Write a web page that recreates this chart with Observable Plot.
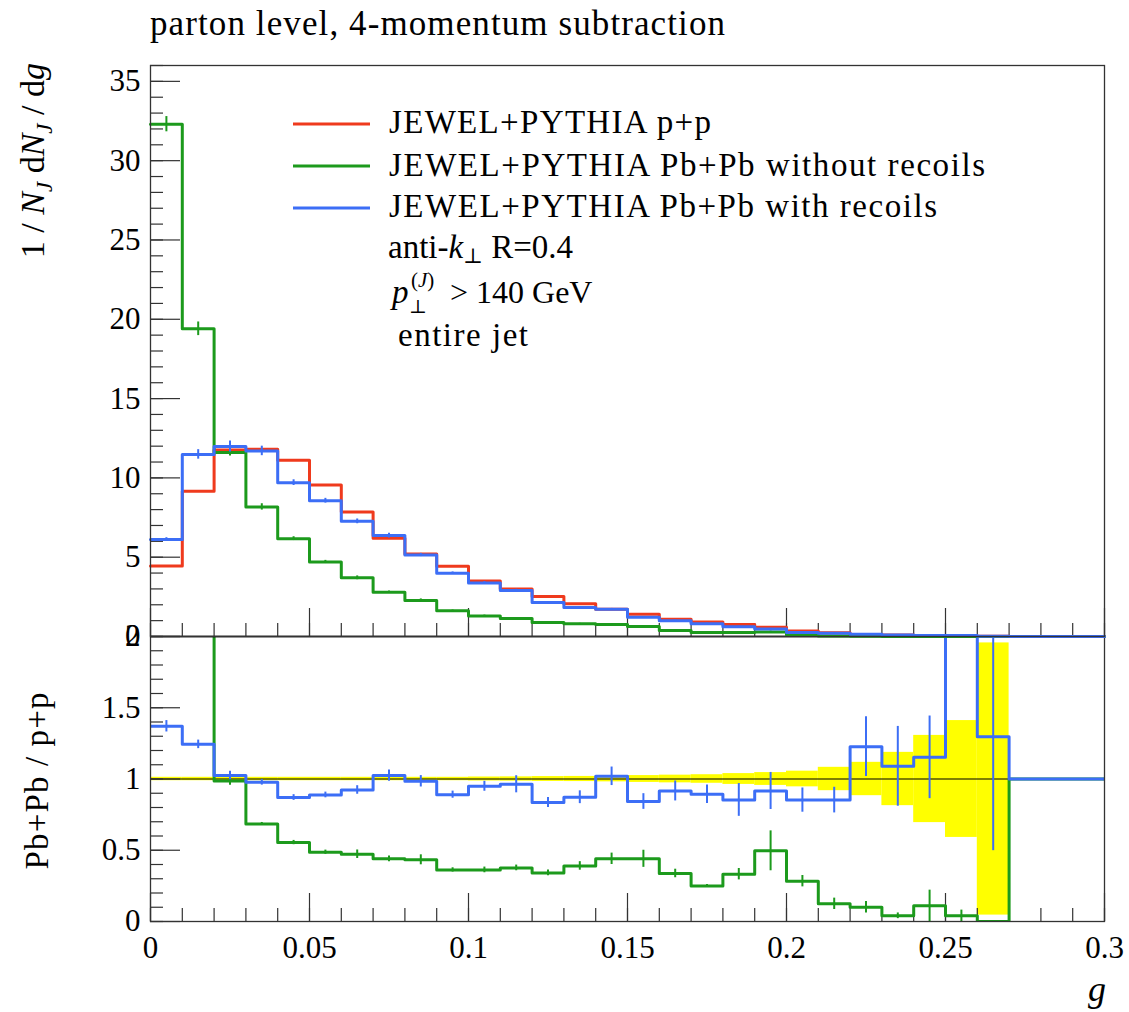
<!DOCTYPE html>
<html><head><meta charset="utf-8">
<script src="https://cdn.jsdelivr.net/npm/d3@7"></script>
<script src="https://cdn.jsdelivr.net/npm/@observablehq/plot@0.6"></script>
<style>
body{margin:0;background:#fff;}
#wrap{position:relative;width:1129px;height:1012px;font-family:"Liberation Serif","DejaVu Serif",serif;}
#wrap > svg{position:absolute;left:0;overflow:visible;}
</style></head><body><div id="wrap"></div>
<script>
// ---- data ----
const edges = [0,0.01,0.02,0.03,0.04,0.05,0.06,0.07,0.08,0.09,0.1,0.11,0.12,0.13,0.14,0.15,0.16,0.17,0.18,0.19,0.2,0.21,0.22,0.23,0.24,0.25,0.26,0.27,0.28,0.29,0.3];
const ppRed   = [4.44,9.16,11.76,11.8,11.11,9.55,7.85,6.2,5.2,4.43,3.5,3.0,2.52,2.06,1.72,1.41,1.09,0.92,0.75,0.59,0.34,0.23,0.12,0.09,0.06,0.03,0.015,0,0,0];
const pbNoRec = [32.3,19.4,11.6,8.17,6.17,4.7,3.7,2.79,2.27,1.62,1.3,1.13,0.88,0.8,0.75,0.63,0.38,0.25,0.25,0.29,0.1,0.03,0.01,0.005,0.007,0.001,0,0,0,0];
const pbRec   = [6.11,11.48,11.98,11.7,9.7,8.56,7.26,6.36,5.14,3.99,3.38,2.9,2.14,1.83,1.72,1.22,1.0,0.8,0.62,0.48,0.25,0.2,0.14,0.1,0.07,0.07,0.02,0,0,0];
const errNoRec = [0.48,0.43,0.22,0.2,0.12,0.1,0.12,0.08,0.1,0.05,0.05,0.05,0.03,0.03,0.04,0.04,0.02,0.01,0.02,0.05,0.02,0.01,0.01,0.01,0.01,0,0,0,0,0];
const errRec   = [0.12,0.3,0.35,0.3,0.18,0.15,0.15,0.15,0.1,0.08,0.08,0.08,0.05,0.05,0.05,0.04,0.04,0.03,0.03,0.03,0.02,0.02,0.02,0.02,0.01,0.01,0.01,0,0,0];
const ratioNoRec = [7.3,2.12,0.986,0.685,0.554,0.486,0.472,0.44,0.433,0.362,0.362,0.376,0.341,0.39,0.44,0.44,0.337,0.25,0.332,0.496,0.283,0.124,0.1,0.04,0.11,0.04,0,1,1,1];
const ratioRec   = [1.37,1.243,1.024,0.977,0.87,0.888,0.923,1.024,0.984,0.89,0.949,0.963,0.835,0.872,1.019,0.842,0.916,0.893,0.853,0.916,0.852,0.852,1.227,1.089,1.152,2.5,1.297,1,1,1];
const rErrNoRec  = [0,0,0.03,0.01,0.015,0.015,0.03,0.02,0.035,0.015,0.02,0.02,0.02,0.03,0.04,0.06,0.03,0.01,0.04,0.14,0.04,0.04,0.04,0.02,0.11,0.04,0,0,0,0];
const rErrRec    = [0.04,0.03,0.03,0.02,0.02,0.02,0.03,0.04,0.04,0.025,0.035,0.06,0.035,0.045,0.065,0.055,0.07,0.065,0.115,0.13,0.085,0.09,0.21,0.28,0.29,0,0.8,0,0,0];
const ppRelErr   = [0.012,0.012,0.012,0.012,0.012,0.012,0.012,0.012,0.012,0.012,0.014,0.015,0.017,0.018,0.02,0.024,0.027,0.03,0.038,0.045,0.055,0.082,0.117,0.187,0.306,0.41,0.955];
const yMajorTop = [0,5,10,15,20,25,30,35];
const yMinorTop = [0,1,2,3,4,5,6,7,8,9,10,11,12,13,14,15,16,17,18,19,20,21,22,23,24,25,26,27,28,29,30,31,32,33,34,35,36];
const xMajor = [0,0.05,0.1,0.15,0.2,0.25,0.3];
const yMajorRatio = [0,0.5,1,1.5,2];
const yMinorRatio = [0,0.1,0.2,0.3,0.4,0.5,0.6,0.7,0.8,0.9,1,1.1,1.2,1.3,1.4,1.5,1.6,1.7,1.8,1.9,2];

const RED = "#ef3a1d", GREEN = "#1c9a1c", BLUE = "#3c6ef6", AX = "#333";
const FONT = '"Liberation Serif","DejaVu Serif",serif';
const fmt = d => String(+d.toFixed(2));

function step(vals){
  const pts = vals.map((v,i)=>({x: edges[i], y: v}));
  pts.push({x: edges[vals.length], y: vals[vals.length-1]});
  return pts;
}
function errs(vals, e){
  return vals.map((v,i)=>({x:(edges[i]+edges[i+1])/2, y1:v-e[i], y2:v+e[i]})).filter(d=>d.y2>d.y1);
}

const W = 1129, ML = 150, MR = 25;
const FW = W - ML - MR;

// ---- top panel ----
const topH = 660, topMT = 65, topMB = 24;
const topFH = topH - topMT - topMB;
const topPlot = Plot.plot({
  width: W, height: topH, marginTop: topMT, marginBottom: topMB, marginLeft: ML, marginRight: MR,
  style: {fontFamily: FONT, fontSize: "31px", background: "transparent", color: "#000"},
  x: {domain: [0, 0.3], axis: null},
  y: {domain: [0, 36]},
  marks: [
    Plot.tickY(yMinorTop, {y: d=>d, insetRight: FW-13, stroke: AX, strokeWidth: 1.2}),
    Plot.tickY(yMajorTop, {y: d=>d, insetRight: FW-30, stroke: AX, strokeWidth: 1.2}),
    Plot.tickX(edges, {x: d=>d, insetTop: topFH-13, stroke: AX, strokeWidth: 1.2}),
    Plot.tickX(xMajor, {x: d=>d, insetTop: topFH-28, stroke: AX, strokeWidth: 1.2}),
    Plot.line(step(ppRed), {x:"x", y:"y", curve:"step-after", stroke: RED, strokeWidth: 3}),
    Plot.line(step(pbNoRec), {x:"x", y:"y", curve:"step-after", stroke: GREEN, strokeWidth: 3}),
    Plot.ruleX(errs(pbNoRec, errNoRec), {x:"x", y1:"y1", y2:"y2", stroke: GREEN, strokeWidth: 2}),
    Plot.line(step(pbRec), {x:"x", y:"y", curve:"step-after", stroke: BLUE, strokeWidth: 3}),
    Plot.ruleX(errs(pbRec, errRec), {x:"x", y1:"y1", y2:"y2", stroke: BLUE, strokeWidth: 2}),
    Plot.frame({stroke: AX, strokeWidth: 1.3}),
    Plot.axisY({ticks: yMajorTop, tickSize: 0, tickPadding: 10, tickFormat: fmt, fontSize: 31})
  ]
});
topPlot.style.top = "0px";

// ---- ratio panel ----
const botTop = 600, botH = 412, botMT = 36, botMB = 91;
const botFH = botH - botMT - botMB;
const band = ppRelErr.map((e,i)=>({x1: edges[i], x2: edges[i+1], y1: 1-e, y2: 1+e}));
const botPlot = Plot.plot({
  width: W, height: botH, marginTop: botMT, marginBottom: botMB, marginLeft: ML, marginRight: MR,
  style: {fontFamily: FONT, fontSize: "31px", background: "transparent", color: "#000"},
  x: {domain: [0, 0.3]},
  y: {domain: [0, 2]},
  marks: [
    Plot.rect(band, {x1:"x1", x2:"x2", y1:"y1", y2:"y2", fill: "#ffff00", clip: true}),
    Plot.ruleY([1], {stroke: "#000", strokeWidth: 1.2}),
    Plot.tickY(yMinorRatio, {y: d=>d, insetRight: FW-13, stroke: AX, strokeWidth: 1.2}),
    Plot.tickY(yMajorRatio, {y: d=>d, insetRight: FW-30, stroke: AX, strokeWidth: 1.2}),
    Plot.tickX(edges, {x: d=>d, insetTop: botFH-13, stroke: AX, strokeWidth: 1.2}),
    Plot.tickX(xMajor, {x: d=>d, insetTop: botFH-28, stroke: AX, strokeWidth: 1.2}),
    Plot.line(step(ratioNoRec), {x:"x", y:"y", curve:"step-after", stroke: GREEN, strokeWidth: 3, clip: true}),
    Plot.ruleX(errs(ratioNoRec, rErrNoRec), {x:"x", y1:"y1", y2:"y2", stroke: GREEN, strokeWidth: 2, clip: true}),
    Plot.line(step(ratioRec), {x:"x", y:"y", curve:"step-after", stroke: BLUE, strokeWidth: 3, clip: true}),
    Plot.ruleX(errs(ratioRec, rErrRec), {x:"x", y1:"y1", y2:"y2", stroke: BLUE, strokeWidth: 2, clip: true}),
    Plot.frame({stroke: AX, strokeWidth: 1.3}),
    Plot.ruleY([2], {stroke: "#000", strokeWidth: 1.5}),
    Plot.axisY({ticks: yMajorRatio, tickSize: 0, tickPadding: 10, tickFormat: fmt, fontSize: 31}),
    Plot.axisX({ticks: xMajor, tickSize: 0, tickPadding: 14, tickFormat: fmt, fontSize: 31})
  ]
});
botPlot.style.top = botTop + "px";

const wrap = document.getElementById("wrap");
wrap.appendChild(botPlot);
wrap.appendChild(topPlot);

// ---- text overlay: title, axis labels, legend ----
const ns = "http://www.w3.org/2000/svg";
const ov = document.createElementNS(ns, "svg");
ov.setAttribute("width", W); ov.setAttribute("height", 1012);
ov.style.top = "0px";
ov.setAttribute("font-family", FONT);
ov.innerHTML = `
<text x="150" y="35" font-size="35" textLength="575" lengthAdjust="spacing">parton level, 4-momentum subtraction</text>
<text transform="translate(44,63) rotate(-90)" text-anchor="end" font-size="34">1 / <tspan font-style="italic">N</tspan><tspan font-style="italic" font-size="23" dy="8">J</tspan><tspan dy="-8"> d</tspan><tspan font-style="italic">N</tspan><tspan font-style="italic" font-size="23" dy="8">J</tspan><tspan dy="-8"> / d</tspan><tspan font-style="italic">g</tspan></text>
<text transform="translate(48,781) rotate(-90)" text-anchor="middle" font-size="33" textLength="177" lengthAdjust="spacing">Pb+Pb / p+p</text>
<text x="1097" y="1001" font-size="36" font-style="italic" text-anchor="middle">g</text>
<line x1="293" x2="370" y1="124" y2="124" stroke="${RED}" stroke-width="3"/>
<line x1="293" x2="370" y1="166" y2="166" stroke="${GREEN}" stroke-width="3"/>
<line x1="293" x2="370" y1="208" y2="208" stroke="${BLUE}" stroke-width="3"/>
<text x="389" y="133" font-size="33" textLength="322" lengthAdjust="spacing">JEWEL+PYTHIA p+p</text>
<text x="389" y="176" font-size="33" textLength="596" lengthAdjust="spacing">JEWEL+PYTHIA Pb+Pb without recoils</text>
<text x="389" y="217" font-size="33" textLength="548" lengthAdjust="spacing">JEWEL+PYTHIA Pb+Pb with recoils</text>
<text x="388" y="258" font-size="33">anti-<tspan font-style="italic">k</tspan><tspan font-size="21" dy="5">⊥</tspan><tspan dy="-5">  R=0.4</tspan></text>
<text x="392" y="303" font-size="33" font-style="italic">p</text>
<text x="409" y="313" font-size="19">⊥</text>
<text x="411" y="287" font-size="21">(<tspan font-style="italic">J</tspan>)</text>
<text x="450" y="303" font-size="32">&gt; 140 GeV</text>
<text x="398" y="346" font-size="33" textLength="130" lengthAdjust="spacing">entire jet</text>
`;
wrap.appendChild(ov);
</script></body></html>
